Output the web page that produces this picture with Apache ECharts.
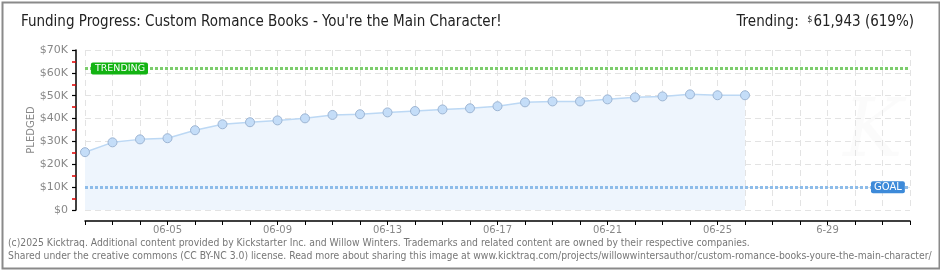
<!DOCTYPE html>
<html><head><meta charset="utf-8">
<script src="https://cdn.jsdelivr.net/npm/echarts@6/dist/echarts.min.js"></script>
<style>html,body{margin:0;padding:0;background:#fff}#c{width:940px;height:270px}</style>
</head><body><div id="c"></div>
<script>
const dates = ['06-02','06-03','06-04','06-05','06-06','06-07','06-08','06-09','06-10','06-11','06-12','06-13','06-14','06-15','06-16','06-17','06-18','06-19','06-20','06-21','06-22','06-23','06-24','06-25','06-26','06-27','06-28','06-29','06-30','07-01','07-02'];
const tickLabels = {'06-05':'06-05','06-09':'06-09','06-13':'06-13','06-17':'06-17','06-21':'06-21','06-25':'06-25','06-29':'6-29'};
const pledged = [25300,29600,30900,31400,34900,37500,38400,39200,40100,41600,41900,42700,43300,44000,44500,45400,47100,47500,47500,48400,49300,49700,50600,50200,50200];
const trending = 61943;
const goal = 10000;
const yTicks = [0,10000,20000,30000,40000,50000,60000,70000];

const chart = echarts.init(document.getElementById('c'), null, {renderer:'canvas'});
const tickFont = 'DejaVu Sans';
chart.setOption({
  animation:false,
  title:[
    {text:"Funding Progress: Custom Romance Books - You're the Main Character!", left:16, top:10,
     textStyle:{fontFamily:'DejaVu Sans Condensed', fontSize:15, fontWeight:'normal', color:'#222'}},
    {text:'{a|Trending:  }{d|$}{a|61,943 (619%)}', right:21, top:10,
     textStyle:{fontWeight:'normal', rich:{a:{fontFamily:'DejaVu Sans Condensed', fontSize:15, fontWeight:'normal', color:'#222'},
                      d:{fontFamily:'DejaVu Sans Condensed', fontSize:9, fontWeight:'normal', color:'#222', padding:[0,1,6,0]}}}}
  ],
  grid:{left:85, right:30, top:50, bottom:60},
  xAxis:{type:'category', data:dates, boundaryGap:false, offset:11,
    axisLine:{onZero:false, lineStyle:{color:'#000', width:1.5}},
    axisTick:{show:true, interval:0, length:4, lineStyle:{color:'#000'}},
    axisLabel:{interval:(i)=>i%4===3, margin:4, fontFamily:tickFont, fontSize:10, color:'#888',
      formatter:(v)=>tickLabels[v]||v},
    splitLine:{show:true, interval:0, lineStyle:{color:'#e3e3e3', type:[6,4], width:1}}
  },
  yAxis:{type:'value', min:0, max:70000, interval:10000, offset:9,
    name:'PLEDGED', nameLocation:'middle', nameGap:40, nameRotate:90, nameMoveOverlap:false,
    nameTextStyle:{fontFamily:tickFont, fontSize:10, color:'#888'},
    axisLine:{show:true, onZero:false, lineStyle:{color:'#000', width:1.5}},
    axisTick:{show:true, length:4, lineStyle:{color:'#000', width:1.2}},
    minorTick:{show:true, splitNumber:2, length:4, lineStyle:{color:'#e00000', width:1.5}},
    axisLabel:{margin:8, fontFamily:tickFont, fontSize:11, color:'#888',
      formatter:(v)=> yTicks.includes(v) ? (v===0?'$0':'$'+(v/1000)+'K') : ''},
    splitLine:{show:true, lineStyle:{color:'#e3e3e3', type:[6,4], width:1}}
  },
  series:[{
    type:'line', data:pledged, symbol:'circle', symbolSize:9,
    itemStyle:{color:'#c4ddf8', borderColor:'#9db5d3', borderWidth:1},
    lineStyle:{color:'#bcd8f4', width:1.5},
    areaStyle:{color:'#eef5fd', opacity:1},
    markLine:{silent:true, symbol:'none', animation:false,
      data:[
        {yAxis:trending, lineStyle:{color:'#7ccd6c', width:3, type:[3,2]},
         label:{show:true, position:'start', distance:-63, formatter:'TRENDING',
           backgroundColor:'#13b313', color:'#fff', fontFamily:tickFont, fontSize:9.5,
           padding:[1,3,1,4], borderRadius:2}},
        {yAxis:goal, lineStyle:{color:'#8ebce9', width:3, type:[3,2]},
         label:{show:true, position:'end', distance:-39, formatter:'GOAL',
           backgroundColor:'#3d8ad9', color:'#fff', fontFamily:tickFont, fontSize:10,
           padding:[1,3,1,3], borderRadius:2}}
      ]}
  }],
  graphic:[
    {type:'text', left:843, top:95, silent:true, z:-1,
     style:{text:'K', fontFamily:'DejaVu Serif', fontStyle:'italic', fontSize:80, fill:'rgba(0,0,0,0.015)'}},
    {type:'text', left:8, top:238, style:{text:'(c)2025 Kicktraq. Additional content provided by Kickstarter Inc. and Willow Winters. Trademarks and related content are owned by their respective companies.', fontFamily:'DejaVu Sans Condensed', fontSize:10.3, fill:'#777'}},
    {type:'text', left:8, top:251, style:{text:'Shared under the creative commons (CC BY-NC 3.0) license. Read more about sharing this image at www.kicktraq.com/projects/willowwintersauthor/custom-romance-books-youre-the-main-character/', fontFamily:'DejaVu Sans Condensed', fontSize:10.3, fill:'#777'}},
    {type:'rect', left:0, top:0, shape:{x:1, y:1, width:937, height:266}, style:{fill:'none', stroke:'#8a8a8a', lineWidth:2}, silent:true}
  ]
});
</script></body></html>
